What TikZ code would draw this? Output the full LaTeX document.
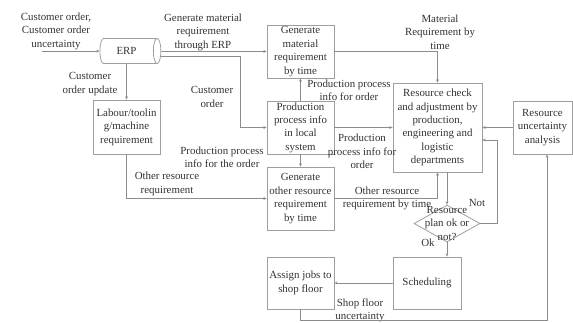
\documentclass[tikz,border=0pt]{standalone}
\usepackage{fontspec}
\setmainfont{Liberation Serif}
\usetikzlibrary{shapes.geometric,arrows.meta}
\definecolor{linec}{gray}{0.55}
\definecolor{boxc}{gray}{0.62}
\definecolor{txtc}{gray}{0.2}
\tikzset{
  txt/.style={align=center, text=txtc, font=\fontsize{10.9}{13.4}\selectfont, inner sep=0pt},
  box/.style={txt, draw=boxc, line width=0.8pt},
  arr/.style={draw=linec, line width=0.7pt, -{Stealth[length=3.2pt,width=2.8pt]}},
  ln/.style={draw=linec, line width=0.7pt}
}
\begin{document}
\begin{tikzpicture}[x=1pt,y=-1pt]
\useasboundingbox (0,0) rectangle (573,322);
% boxes
\node[box, cylinder, shape aspect=0.3, inner ysep=9pt, minimum height=61pt] (erp) at (126.5,51) {ERP};
\node[box, minimum width=67pt, minimum height=53pt] (genmat) at (300.5,51.5) {Generate\\material\\requirement\\by time};
\node[box, minimum width=67pt, minimum height=53pt] (prod) at (300.5,127.5) {Production\\process info\\in local\\system};
\node[box, minimum width=67pt, minimum height=63pt] (genoth) at (300.5,198.5) {Generate\\other resource\\requirement\\by time};
\node[box, minimum width=67pt, minimum height=54pt] (lab) at (126.5,127) {Labour/toolin\\g/machine\\requirement};
\node[box, minimum width=89pt, minimum height=89pt] (rc) at (437.5,127.5) {Resource check\\and adjustment by\\production,\\engineering and\\logistic\\departments};
\node[box, minimum width=59pt, minimum height=53pt] (ru) at (542.5,127.5) {Resource\\uncertainty\\analysis};
\node[box, minimum width=68pt, minimum height=52pt] (sched) at (427,283) {Scheduling};
\node[box, minimum width=67pt, minimum height=52pt] (assign) at (300.5,283) {Assign jobs to\\shop floor};
\node[draw=boxc, line width=0.8pt, diamond, minimum width=66pt, minimum height=37pt, inner sep=0pt] (dia) at (447,223.5) {};
\node[txt] (diat) at (dia) {Resource\\plan ok or\\not?};
% labels
\node[txt] (l1) at (56,31) {Customer order,\\Customer order\\uncertainty};
\node[txt] (l2) at (203,32) {Generate material\\requirement\\through ERP};
\node[txt] (l3) at (440,32) {Material\\Requirement by\\time};
\node[txt] (l4) at (90,84) {Customer\\order update};
\node[txt] (l5) at (212,97) {Customer\\order};
\node[txt] (l6) at (349,90) {Production process\\info for order};
\node[txt] (l7) at (362,151.5) {Production\\process info for\\order};
\node[txt] (l8) at (222,157.5) {Production process\\info for the order};
\node[txt] (l9) at (167,184) {Other resource\\requirement};
\node[txt] (l10) at (387,198.5) {Other resource\\requirement by time};
\node[txt] (l11) at (477,203) {Not};
\node[txt] (l12) at (428,243) {Ok};
\node[txt] (l13) at (360,310.5) {Shop floor\\uncertainty};
% coordinates
\coordinate (in0) at (42,51);
\coordinate (c1) at (240,127.5);
\coordinate (n1) at (497,140);
\coordinate (b2) at (547,320);
% connectors
\draw[arr] (in0) -- (erp.west);
\draw[arr] ([yshift=-0.5pt]erp.east) -- (genmat.west);
\draw[arr] ([yshift=-5.5pt]erp.east) -| (c1) -- (prod.west);
\draw[arr] (genmat.east) -| (rc.north);
\draw[arr] (erp.south) -- (lab.north);
\draw[arr] (prod.north) -- (genmat.south);
\draw[arr] (prod.east) -- (rc.west);
\draw[arr] (prod.south) -- (genoth.north);
\draw[arr] (lab.south) |- (genoth.west);
\draw[arr] (genoth.east) -| (rc.south);
\draw[arr] (rc.south -| dia.north) -- (dia.north);
\draw[arr] (ru.west) -- (rc.east);
\draw[arr] (dia.east) -| (n1) -- (n1 -| rc.east);
\draw[arr] (dia.south) -- (dia.south |- sched.north);
\draw[arr] (sched.west) -- (assign.east);
\draw[arr] (assign.south) |- (b2) -- (b2 |- ru.south);
\end{tikzpicture}
\end{document}
